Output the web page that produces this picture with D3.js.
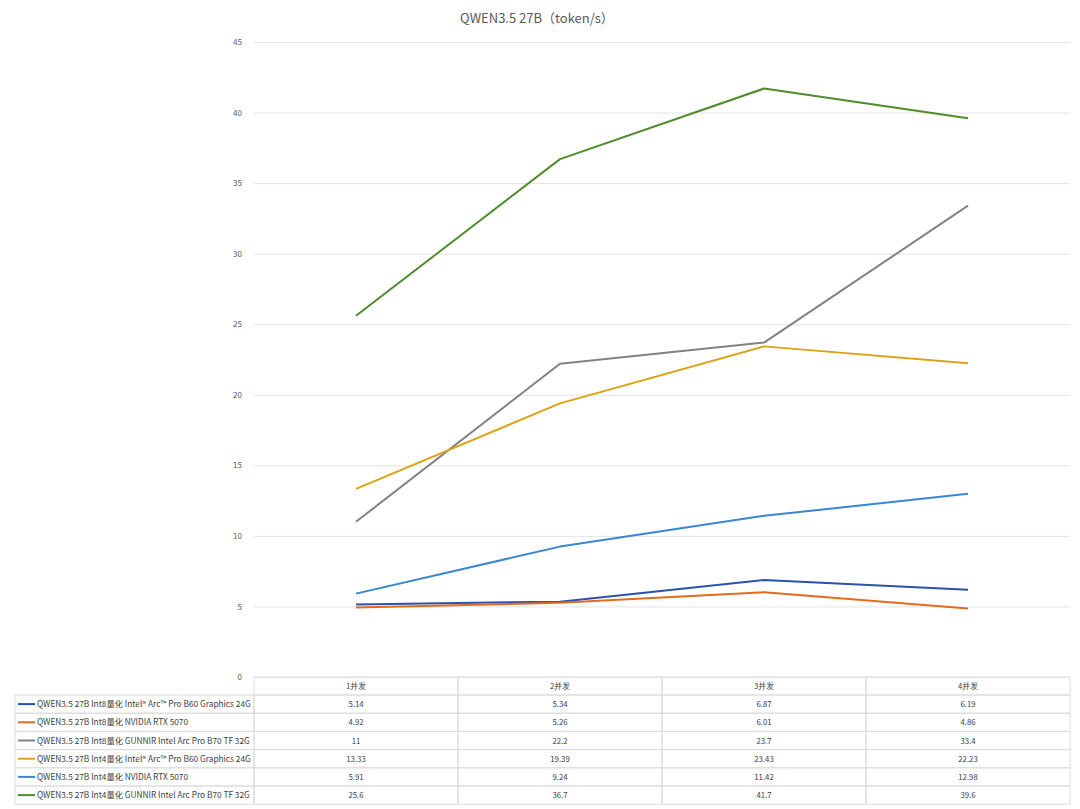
<!DOCTYPE html>
<html><head><meta charset="utf-8">
<script src="https://cdn.jsdelivr.net/npm/d3@7"></script>
<style>body{margin:0;background:#fff;}svg{display:block;font-family:"Noto Sans CJK SC","Noto Sans",sans-serif;}</style>
</head><body>
<svg id="c" width="1080" height="809"></svg>
<script>
const categories = ["1并发", "2并发", "3并发", "4并发"];
const seriesNames = [
  "QWEN3.5 27B Int8量化 Intel® Arc™ Pro B60 Graphics 24G",
  "QWEN3.5 27B Int8量化 NVIDIA RTX 5070",
  "QWEN3.5 27B Int8量化 GUNNIR Intel Arc Pro B70 TF 32G",
  "QWEN3.5 27B Int4量化 Intel® Arc™ Pro B60 Graphics 24G",
  "QWEN3.5 27B Int4量化 NVIDIA RTX 5070",
  "QWEN3.5 27B Int4量化 GUNNIR Intel Arc Pro B70 TF 32G"
];
const s1 = [5.14, 5.34, 6.87, 6.19];
const s2 = [4.92, 5.26, 6.01, 4.86];
const s3 = [11, 22.2, 23.7, 33.4];
const s4 = [13.33, 19.39, 23.43, 22.23];
const s5 = [5.91, 9.24, 11.42, 12.98];
const s6 = [25.6, 36.7, 41.7, 39.6];
const seriesValues = [s1, s2, s3, s4, s5, s6];
const colors = ["#2a52ad", "#e46b1c", "#828282", "#dba315", "#3a85d4", "#4f8c2c"];
const yTicks = [0, 5, 10, 15, 20, 25, 30, 35, 40, 45];
const title = "QWEN3.5 27B（token/s）";

(function () {
const svg = d3.select("#c");
const pLeft = 254, pRight = 1070, pTop = 42, pBottom = 677;
const x = d3.scaleBand().domain(categories).range([pLeft, pRight]);
const y = d3.scaleLinear().domain([0, 45]).range([pBottom, pTop]);

svg.append("text").attr("x", 537).attr("y", 23).attr("text-anchor", "middle")
  .attr("font-size", 13).attr("fill", "#595959").text(title);

const yAxis = d3.axisLeft(y).tickValues(yTicks).tickSize(-(pRight - pLeft)).tickPadding(12);
const ga = svg.append("g").attr("transform", `translate(${pLeft},0)`).call(yAxis);
ga.select(".domain").remove();
ga.selectAll(".tick line").attr("stroke", "#e3e3e3").attr("stroke-width", 1);
ga.selectAll(".tick text").attr("font-size", 8).attr("fill", "#595959")
  .attr("font-family", '"Noto Sans CJK SC","Noto Sans",sans-serif');

const line = d3.line().x((d, i) => x(categories[i]) + x.bandwidth() / 2).y(d => y(d));
seriesValues.forEach((vals, k) => {
  svg.append("path").datum(vals).attr("d", line).attr("fill", "none")
    .attr("stroke", colors[k]).attr("stroke-width", 2).attr("stroke-linejoin", "round");
});

const rowH = 18.2;
const headerTop = 677, headerH = 18;
const tableLeft = 15;
const g = svg.append("g").attr("font-size", 7.8).attr("fill", "#404040");
const gridColor = "#dcdcdc";
categories.forEach(c => {
  g.append("rect").attr("x", x(c)).attr("y", headerTop).attr("width", x.bandwidth()).attr("height", headerH)
    .attr("fill", "none").attr("stroke", gridColor);
  g.append("text").attr("x", x(c) + x.bandwidth() / 2).attr("y", headerTop + headerH / 2 + 3)
    .attr("text-anchor", "middle").text(c);
});
seriesNames.forEach((name, k) => {
  const ry = headerTop + headerH + k * rowH;
  g.append("rect").attr("x", tableLeft).attr("y", ry).attr("width", pLeft - tableLeft).attr("height", rowH)
    .attr("fill", "none").attr("stroke", gridColor);
  g.append("line").attr("x1", tableLeft + 3).attr("x2", tableLeft + 20).attr("y1", ry + rowH / 2).attr("y2", ry + rowH / 2)
    .attr("stroke", colors[k]).attr("stroke-width", 2);
  g.append("text").attr("x", tableLeft + 22).attr("y", ry + rowH / 2 + 3).attr("font-size", 8.3).text(name);
  categories.forEach((c, i) => {
    g.append("rect").attr("x", x(c)).attr("y", ry).attr("width", x.bandwidth()).attr("height", rowH)
      .attr("fill", "none").attr("stroke", gridColor);
    g.append("text").attr("x", x(c) + x.bandwidth() / 2).attr("y", ry + rowH / 2 + 3)
      .attr("text-anchor", "middle").text(seriesValues[k][i]);
  });
});
})();
</script>
</body></html>
